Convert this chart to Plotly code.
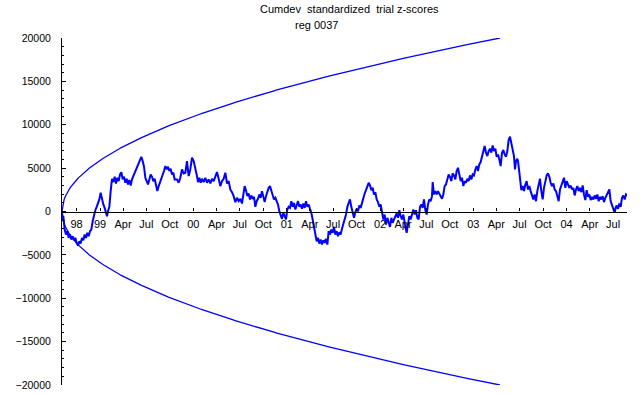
import numpy as np
import pandas as pd
import plotly.graph_objects as go

# ---------------- data ----------------
start_date = "1998-08-05"

# days since start_date
days = [0, 2.6, 5.2, 10.4, 15.6, 20.9, 26.1, 31.3, 36.5, 41.7, 47, 52.2, 57.4, 62.6, 67.8, 73, 78.3, 83.5, 88.7, 93.9,
        99.1, 104.4, 109.6, 114.8, 120, 125.3, 130.5, 135.7, 140.9, 146.1, 151.3, 156.6, 161.8, 167, 172.2, 176.1,
        180.1, 185.3, 190.5, 195.7, 200.9, 206.1, 211.4, 216.6, 221.8, 227, 232.2, 237.5, 242.7, 247.9, 253.1,
        258.3, 263.5, 268.8, 274, 279.2, 284.4, 289.6, 294.9, 300.1, 305.3, 310.5, 315.7, 321, 326.2, 331.4,
        336.6, 341.8, 347, 352.3, 357.5, 362.7, 367.9, 373.1, 378.4, 383.6, 388.8, 394, 399.2, 404.5, 409.7,
        414.9, 420.1, 425.3, 430.5, 435.8, 441,
        450.1, 456.6, 463.1, 469.6, 476.2, 482.7, 489.2, 495.7, 502.3, 508.8, 515.3, 521.8, 528.4, 532.3, 537.5,
        542.7, 547.9, 554.4, 561, 567.5, 574, 580.5, 587.1, 593.6, 600.1, 606.6, 613.2, 619.7, 626.2, 632.7,
        639.3, 645.8, 652.3, 658.8, 665.3, 671.9, 678.4, 684.9, 691.4, 698, 704.5, 711, 714.9, 720.1, 725.4,
        730.6, 735.8, 741, 746.2, 751.5, 756.7, 761.9, 767.1, 772.3, 777.6, 782.8, 788, 793.2, 798.4, 803.6,
        808.9, 814.1, 819.3, 824.5, 829.7, 835, 840.2, 845.4, 850.6, 855.8, 861, 866.3, 871.5, 876.7, 881.9, 887.1,
        892.4, 897.6, 902.8, 908, 913.2, 918.5, 923.7, 928.9, 934.1, 939.3, 944.5, 949.8, 955, 960.2, 965.4,
        970.6, 975.9, 981.1, 986.3, 991.5, 996.7, 1002, 1007.2, 1012.4, 1017.6, 1022.8, 1028, 1033.3, 1038.5,
        1043.7, 1048.9, 1054.1, 1059.4, 1064.6, 1069.8, 1075, 1080.2, 1085.5, 1090.7, 1095.9, 1101.1, 1106.3,
        1111.6, 1116.8, 1122, 1127.2, 1132.4, 1137.6, 1142.9, 1148.1, 1153.3, 1158.5, 1163.7, 1169, 1174.2,
        1179.4, 1184.6, 1189.8, 1195.1, 1200.3, 1205.5, 1210.7, 1215.9, 1221.2, 1226.4, 1231.6, 1236.8, 1242,
        1247.2, 1252.5, 1257.7, 1262.9, 1268.1, 1273.3, 1278.6, 1283.8, 1289, 1294.2, 1299.4, 1304.7, 1309.9,
        1315.1, 1320.3, 1325.5, 1330.8, 1336,
        1338.6, 1343.8, 1349, 1354.2, 1359.4, 1364.7, 1369.9, 1375.1, 1380.3, 1385.5, 1390.7, 1396, 1401.2,
        1406.4, 1411.6, 1416.8, 1422.1, 1427.3, 1432.5, 1437.7, 1442.9, 1448.2, 1450.8, 1456, 1461.2, 1466.4,
        1471.6, 1476.9, 1482.1, 1487.3, 1492.5, 1497.7, 1502.9, 1508.2, 1513.4, 1518.6, 1523.8, 1529, 1534.3,
        1539.5, 1544.7, 1549.9, 1555.1, 1560.4, 1565.6, 1570.8, 1576, 1581.2, 1586.5, 1591.7, 1596.9, 1602.1,
        1607.3, 1612.6, 1617.8, 1623, 1628.2, 1633.4, 1638.6, 1643.9, 1649.1, 1654.3, 1659.5, 1664.7, 1670,
        1675.2, 1680.4, 1685.6, 1690.8, 1696.1, 1701.3, 1706.5, 1711.7, 1716.9, 1722.2, 1727.4, 1732.6, 1737.8,
        1743, 1748.2, 1753.5, 1758.7, 1763.9, 1769.1, 1773, 1776.9, 1782.1,
        1784.8, 1788.7, 1792.6, 1797.8, 1803, 1808.2, 1813.5, 1818.7, 1823.9, 1829.1, 1834.3, 1839.6, 1844.8,
        1850, 1855.2, 1860.4, 1865.7, 1870.9, 1876.1, 1881.3, 1886.5, 1891.7, 1897, 1902.2, 1907.4, 1912.6,
        1917.8, 1923.1, 1928.3, 1933.5, 1938.7, 1943.9, 1949.2, 1954.4, 1959.6, 1964.8, 1970, 1975.2, 1980.5,
        1985.7, 1990.9, 1996.1, 2001.3, 2006.6, 2011.8, 2017, 2022.2, 2027.4, 2032.7, 2037.9, 2043.1, 2048.3,
        2053.5, 2058.8, 2064, 2069.2, 2074.4, 2079.6, 2084.9, 2090.1, 2095.3, 2100.5, 2105.7, 2111, 2116.2,
        2121.4, 2126.6, 2131.8, 2137, 2142.3, 2147.5, 2152.7, 2157.9, 2163.1, 2167, 2170.9, 2176.2, 2181.4,
        2186.6, 2191.8, 2197, 2202.3, 2207.5, 2211.4]

cumdev = [0, -1120, -540, -2080, -2660, -2270, -3040, -2660, -3230, -2850, -3310, -3040, -3620, -3930, -3430, -3700,
          -3040, -3310, -2660, -3040, -2460, -2850, -2270, -2080, -1120, -350, 150, 540, 920, 1390, 2160, 1390, 810,
          420, -150, -540, 40, 540, 2350, 3770, 3390, 4000, 3230, 3890, 3500, 4270, 4540, 3700, 4000, 3310, 3770,
          3120, 3620, 3000, 3700, 4080, 4470, 4850, 5160, 5620, 6010, 6310, 5810, 5160, 3890, 3500, 3120, 3700,
          4270, 4000, 3500, 3770, 3120, 2350, 2930, 3310, 3700, 4080, 4660, 5240, 4850, 5160, 4660, 4930, 4270,
          4470, 3700,
          3700, 3310, 3890, 4850, 4390, 4470, 5810, 4080, 4850, 6200, 5810, 5040, 4080, 3390, 3890, 3310, 3770,
          3390, 3890, 3310, 3700, 3230, 3770, 3500, 4000, 4540, 3770, 2930, 3500, 3770, 4470, 3230, 3500, 2540,
          2230, 1770, 1080, 1580, 1190, 1460, 920, 2160, 2930, 2460, 1770, 2080, 1390, 1850, 1460, 1690, 540,
          1190, 1460, 1960, 1580, 2350, 1690, 1080, 1770, 2350, 2730, 2930, 2460, 1960, 1390, 1580, 1190, 810, 40,
          -460, -850, -150, -620, -920, 230, 540,
          420, 1190, 540, 1000, 230, 810, 1190, 540, 810, 310, 920, 420, 1190, 540, 810, 310, -150, -920, -1890,
          -2660, -3430, -3040, -3700, -3230, -3810, -3310, -3620, -3160, -3810, -2270, -2660, -2080, -2460, -1770,
          -2660, -2270, -2850, -2390, -2660, -2000, -1500, -920, -350, 540, 1000, 1390, 540, 40, -730, -80, 310,
          40, 690, 420, 1080, 1390, 2080, 2460, 2930, 3310, 3000, 2460, 2730, 1960, 2230, 1390, 1080, 540, 810,
          40, -920, -350, -1500, -730, -1310, -1770, -730, -1310, -920, -540, -230, -730, 150, -540, -920, -350,
          -920, -1770, -2460, -1310, -540, -920, -350, 230, -350, 150, -730, -920, 540, 810, 420, 1390, 150, -350,
          810, 1390, 1190, 1770, 3390, 1960, 2350, 1960, 2350, 2080, 1770, 1460, 1960, 2930, 3120, 3700, 4270,
          4000, 3500, 4390, 4160, 3700, 4660, 5040, 4270, 3500, 3890, 2930, 3500, 3310, 3770, 3500, 4160, 3700,
          4270, 4160, 4850, 5240, 4660, 5430, 5700, 6390, 7160, 7550, 6780, 6390, 6970, 7240, 6780, 7620, 6970,
          7240, 6310, 6580, 6010, 5240, 6780, 7080, 6580, 6310, 6970, 8240, 8620, 7740, 7160, 6390, 4850, 5810,
          6080,
          5810, 4850, 3700, 2460, 2930, 2350, 3120, 3500, 2540, 2930, 2350, 1960, 1390, 1960, 1190, 2350, 3310,
          3770, 2350, 1390, 2730, 3700, 4160, 4390, 4000, 3310, 2930, 3230, 2540, 2350, 1850, 1190, 2540, 2930,
          3310, 3890, 2730, 3500, 3120, 2730, 3000, 2540, 2730, 1850, 2540, 2930, 2350, 2730, 2230, 3000, 1960,
          1310, 2460, 1690, 1960, 1310, 1690, 1390, 1850, 1460, 1960, 1190, 1690, 1390, 1770, 1080, 1580, 1960,
          2350, 2540, 1190, 810, 310, -150, 420, 690, 310, 920, 540, 1580, 1850, 1390, 1960, 1850]

# x-axis ticks (quarter starts) and their labels
tick_dates = ["1998-10-01", "1999-01-01", "1999-04-01", "1999-07-01", "1999-10-01",
              "2000-01-01", "2000-04-01", "2000-07-01", "2000-10-01",
              "2001-01-01", "2001-04-01", "2001-07-01", "2001-10-01",
              "2002-01-01", "2002-04-01", "2002-07-01", "2002-10-01",
              "2003-01-01", "2003-04-01", "2003-07-01", "2003-10-01",
              "2004-01-01", "2004-04-01", "2004-07-01"]
tick_labels = ["98", "99", "Apr", "Jul", "Oct", "00", "Apr", "Jul", "Oct", "01", "Apr", "Jul", "Oct",
               "02", "Apr", "Jul", "Oct", "03", "Apr", "Jul", "Oct", "04", "Apr", "Jul"]

# probability envelope: +/- envelope_peak * sqrt(t / envelope_end_day)
envelope_peak = 20000
envelope_end_day = 1714
axis_end_day = 2211.4

title_text = "Cumdev\u00a0\u00a0standardized\u00a0\u00a0trial z-scores"
subtitle_text = "reg 0037"

# ---------------- figure ----------------
t0 = pd.Timestamp(start_date)
x_trace = t0 + pd.to_timedelta(np.array(days), unit="D")
env_days = np.linspace(0, envelope_end_day, 400)
x_env = t0 + pd.to_timedelta(env_days, unit="D")
env = envelope_peak * np.sqrt(env_days / envelope_end_day)

BLUE = "rgb(0,0,255)"
FONT = "Liberation Sans, Arial, sans-serif"

W, H = 640, 395
ML, MR, MT, MB = 62, 13, 38, 10

fig = go.Figure()
fig.add_trace(go.Scatter(x=x_env, y=env, mode="lines", line=dict(color=BLUE, width=1.3),
                         hoverinfo="skip", showlegend=False))
fig.add_trace(go.Scatter(x=x_env, y=-env, mode="lines", line=dict(color=BLUE, width=1.3),
                         hoverinfo="skip", showlegend=False))
fig.add_trace(go.Scatter(x=x_trace, y=cumdev, mode="lines", line=dict(color=BLUE, width=2.0),
                         showlegend=False))

def py_to_paper(py):
    return 1 - (py - MT) / (H - MT - MB)

def px_to_paper(px):
    return (px - ML) / (W - ML - MR)

fig.update_layout(
    width=W, height=H,
    margin=dict(l=ML, r=MR, t=MT, b=MB, autoexpand=False),
    paper_bgcolor="white", plot_bgcolor="white",
    font=dict(family=FONT, size=11, color="black"),
    showlegend=False,
    xaxis=dict(
        type="date",
        range=[t0, t0 + pd.Timedelta(days=axis_end_day)],
        anchor="free", position=0.5,
        automargin=False,
        showline=True, linecolor="black", linewidth=1.2,
        ticks="inside", ticklen=3, tickcolor="black", tickwidth=1,
        tickmode="array", tickvals=tick_dates, ticktext=tick_labels,
        tickfont=dict(size=11),
        ticklabelstandoff=2,
        showgrid=False, zeroline=False,
    ),
    yaxis=dict(
        range=[-20000, 20000],
        automargin=False,
        showline=True, linecolor="black", linewidth=1,
        ticks="inside", ticklen=4, tickcolor="black",
        dtick=5000, tickformat="d",
        tickfont=dict(size=10.5),
        ticklabelstandoff=8,
        minor=dict(dtick=1000, ticks="inside", ticklen=2, tickcolor="black"),
        showgrid=False, zeroline=False,
    ),
    annotations=[
        dict(text=title_text, x=px_to_paper(349), y=py_to_paper(9), xref="paper", yref="paper",
             showarrow=False, xanchor="center", yanchor="middle", font=dict(size=11)),
        dict(text=subtitle_text, x=px_to_paper(316), y=py_to_paper(25), xref="paper", yref="paper",
             showarrow=False, xanchor="center", yanchor="middle", font=dict(size=11)),
    ],
)

fig.write_html(
    "out.html",
    config={"displayModeBar": False},
    post_script="document.body.style.margin='0';document.body.style.padding='0';",
)
